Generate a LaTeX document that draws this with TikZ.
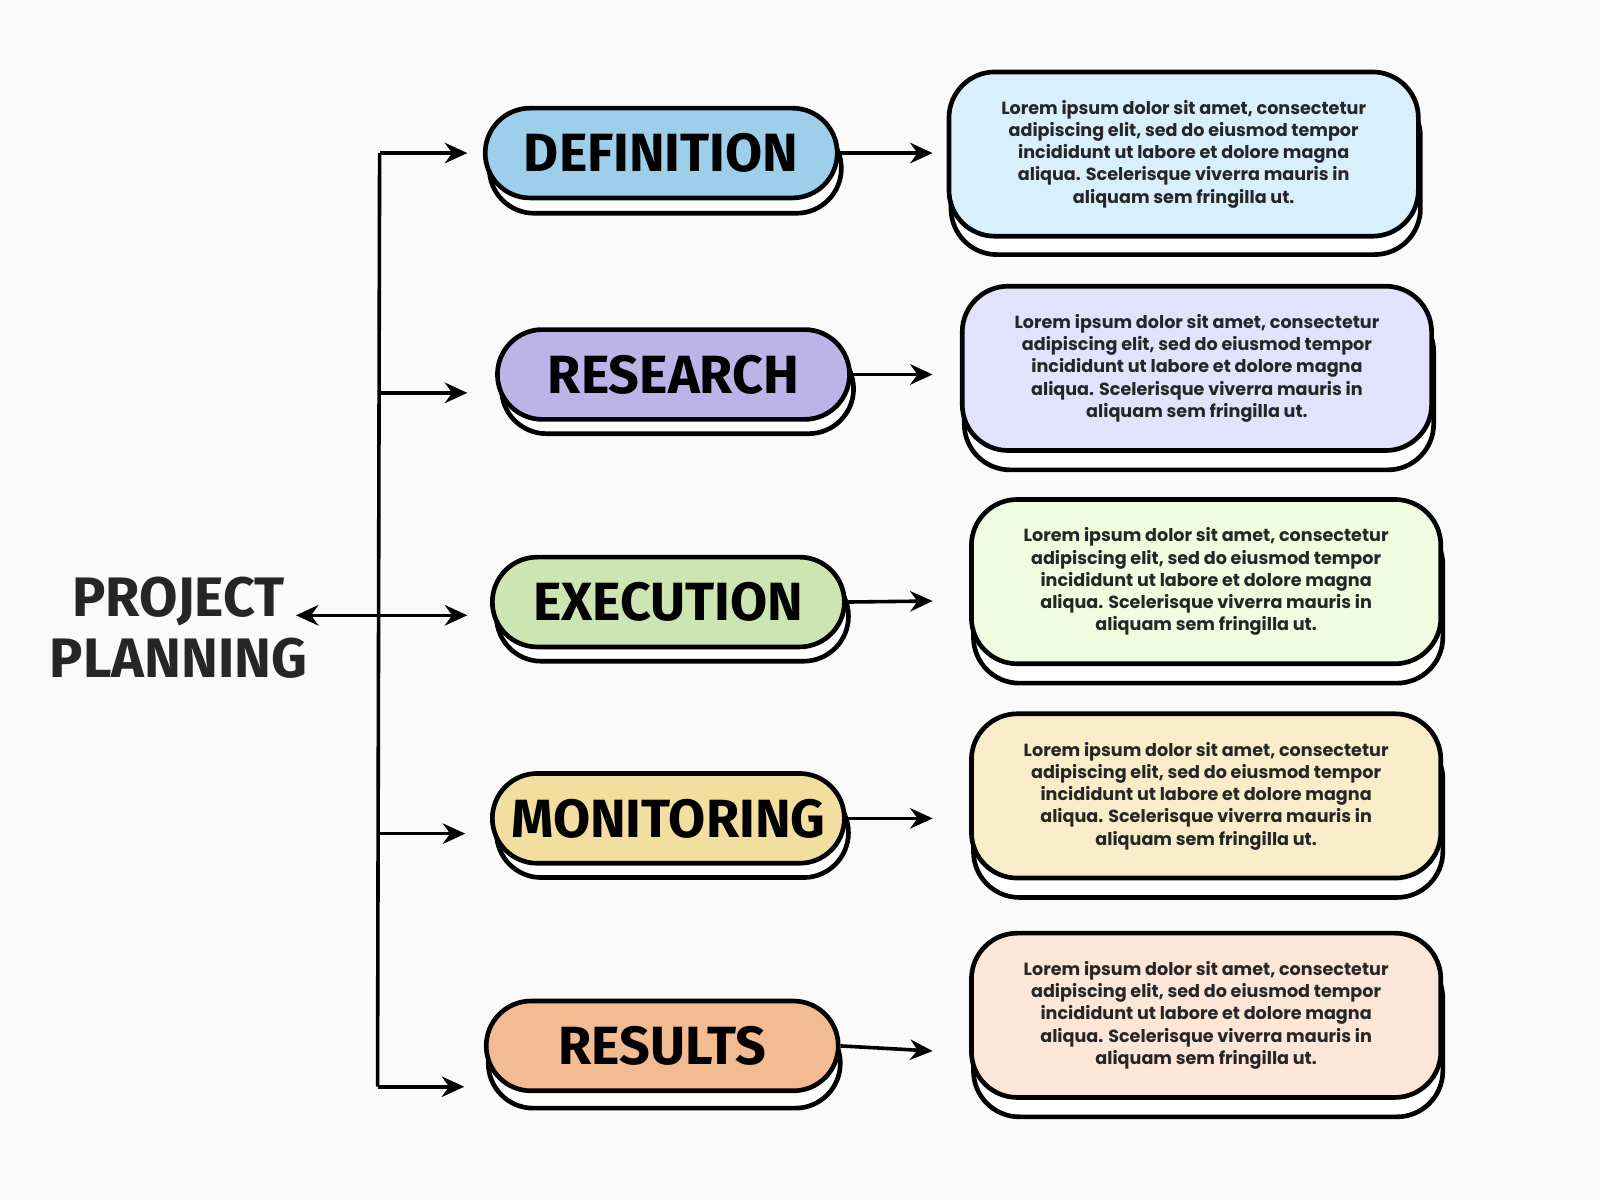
\documentclass[tikz,border=0pt]{standalone}
\usepackage{fontspec}
\setmainfont{Poppins}
\newfontfamily\headfont{Fira Sans}
\usetikzlibrary{arrows.meta}
\definecolor{bgc}{HTML}{FAFAFA}
\definecolor{defc}{HTML}{9DCFEA}\definecolor{defb}{HTML}{D8EFFD}
\definecolor{resc}{HTML}{BCB4E8}\definecolor{resb}{HTML}{E2E2FD}
\definecolor{exec}{HTML}{CDE5B3}\definecolor{exeb}{HTML}{F0FBE0}
\definecolor{monc}{HTML}{F2DE9E}\definecolor{monb}{HTML}{F8EDC8}
\definecolor{rslc}{HTML}{F2BB92}\definecolor{rslb}{HTML}{FBE6D8}
\newcommand{\lorem}{Lorem ipsum dolor sit amet, consectetur\\adipiscing elit, sed do eiusmod tempor\\incididunt ut labore et dolore magna\\aliqua. Scelerisque viverra mauris in\\aliquam sem fringilla ut.}
\tikzset{
  pill/.style={draw=black,line width=1.3pt,rounded corners=44*0.01cm,minimum width=345*0.01cm,minimum height=88*0.01cm,font=\headfont\bfseries\fontsize{15}{15}\selectfont},
  box/.style={draw=black,line width=1.3pt,rounded corners=45*0.01cm,minimum width=460*0.01cm,minimum height=161*0.01cm,align=center,font=\bfseries\fontsize{4.9}{6.2}\selectfont,text=black!85},
  arr/.style={-{Stealth[length=2.2mm,width=2mm]},line width=1pt},
}
\begin{document}
\begin{tikzpicture}[x=0.01cm,y=-0.01cm]
   \fill[bgc] (0,0) rectangle (1568,1176);
   \useasboundingbox (0,0) rectangle (1568,1176);
   % title
   \node[font=\headfont\bfseries\fontsize{15.5}{17}\selectfont,align=center,text=black!85] (title) at (175,615) {PROJECT\\PLANNING};
   % shadows
   \node[pill,fill=white] (defs) at (652,165) {};
   \node[pill,fill=white] (ress) at (664,381) {};
   \node[pill,fill=white] (exes) at (659,604) {};
   \node[pill,fill=white] (mons) at (659,816) {};
   \node[pill,fill=white] (rsls) at (651,1042) {};
   \node[box,fill=white] (b1s) at (1162,169) {};
   \node[box,fill=white] (b2s) at (1175,380) {};
   \node[box,fill=white] (b3s) at (1184,589) {};
   \node[box,fill=white] (b4s) at (1184,799) {};
   \node[box,fill=white] (b5s) at (1184,1014) {};
   % pills
   \node[pill,fill=defc] (def) at (648,150) {DEFINITION};
   \node[pill,fill=resc] (res) at (660,367) {RESEARCH};
   \node[pill,fill=exec] (exe) at (655,590) {EXECUTION};
   \node[pill,fill=monc] (mon) at (655,802) {MONITORING};
   \node[pill,fill=rslc] (rsl) at (649,1025) {RESULTS};
   % text boxes
   \node[box,fill=defb] (b1) at (1160,151) {\lorem};
   \node[box,fill=resb] (b2) at (1173,361) {\lorem};
   \node[box,fill=exeb] (b3) at (1182,570) {\lorem};
   \node[box,fill=monb] (b4) at (1182,780) {\lorem};
   \node[box,fill=rslb] (b5) at (1182,995) {\lorem};
   % trunk
   \coordinate (top) at (372,150);
   \coordinate (mid) at (372,603);
   \coordinate (bot) at (370,1065);
   \draw[line width=1pt] (top) -- (bot);
   \draw[arr] (mid) -- (290,603);
   \draw[arr] (mid) -- (458,603);
   \draw[arr] (top) -- (458,150);
   \draw[arr] (372,385) -- (458,385);
   \draw[arr] (371,817) -- (456,817);
   \draw[arr] (bot) -- (455,1065);
   % to boxes
   \draw[arr] (def.east) -- (914,150);
   \draw[arr] (res.east) -- (914,367);
   \draw[arr] (exe.east) -- (914,589);
   \draw[arr] (mon.east) -- (914,802);
   \draw[arr] (rsl.east) -- (914,1030);
\end{tikzpicture}
\end{document}
